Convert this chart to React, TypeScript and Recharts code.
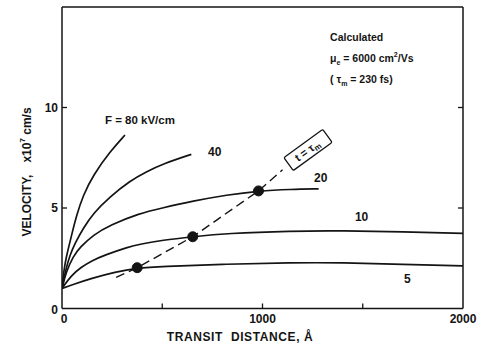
import React from 'react';
import { ComposedChart, Line, XAxis, YAxis, ReferenceDot, ReferenceLine, Label } from 'recharts';

// Transit distance (Å) and velocity (1e7 cm/s) for each field
const dist80 = [0, 5, 12, 22, 32, 48, 73, 106, 156, 239, 314];
const vel80 = [1.0, 1.5, 2.05, 2.58, 3.0, 3.66, 4.65, 5.65, 6.64, 7.8, 8.63];

const dist40 = [0, 20, 40, 65, 106, 156, 239, 339, 420, 505, 645];
const vel40 = [1.0, 2.0, 2.66, 3.25, 3.99, 4.74, 5.56, 6.35, 6.8, 7.2, 7.67];

const dist20 = [0, 20, 56, 90, 156, 239, 389, 490, 655, 822, 980, 1140, 1280];
const vel20 = [1.0, 1.8, 2.6, 3.05, 3.66, 4.15, 4.74, 4.98, 5.35, 5.65, 5.85, 5.93, 5.95];

const dist10 = [0, 47, 95, 147, 214, 330, 389, 500, 652, 822, 1140, 1400, 1700, 2000];
const vel10 = [1.0, 1.65, 2.05, 2.37, 2.66, 3.06, 3.2, 3.4, 3.57, 3.74, 3.86, 3.87, 3.82, 3.74];

const dist5 = [0, 47, 147, 265, 375, 490, 822, 1140, 1400, 1700, 2000];
const vel5 = [1.0, 1.17, 1.5, 1.82, 2.02, 2.09, 2.21, 2.28, 2.28, 2.2, 2.12];

// t = tau_m locus
const tauDist = [270, 375, 652, 980, 1100];
const tauVel = [1.55, 2.03, 3.57, 5.85, 6.9];

const xTicks = [0, 500, 1000, 1500, 2000];
const xTickLabels = ['0', '', '1000', '', '2000'];
const yTicks = [0, 5, 10];
const yTickLabels = ['0', '5', '10'];
const rTicks = [5, 10];
const X_MAX = 2000;
const Y_MAX = 15;

const INK = '#141414';
const FONT = '"Liberation Sans", Arial, sans-serif';

const zip = (d: number[], v: number[]) => d.map((x, i) => ({ d: x, v: v[i] }));
const s80 = zip(dist80, vel80);
const s40 = zip(dist40, vel40);
const s20 = zip(dist20, vel20);
const s10 = zip(dist10, vel10);
const s5 = zip(dist5, vel5);
const tau = zip(tauDist, tauVel);
const dots = tau.filter((p, i) => i >= 1 && i <= 3);

const XTick = (props: any) => {
  const { x, y, payload } = props;
  const ay = y - 8;
  const idx = xTicks.indexOf(payload.value);
  const label = idx >= 0 ? xTickLabels[idx] : '';
  return (
    <g>
      {payload.value !== 0 && payload.value !== X_MAX && (
        <line x1={x} y1={ay} x2={x} y2={ay - 5} stroke={INK} strokeWidth={1.3} />
      )}
      {label && (
        <text x={payload.value === 0 ? x + 2 : x} y={ay + 14} textAnchor="middle" fontFamily={FONT} fontWeight="bold" fontSize={12} fill={INK}>
          {label}
        </text>
      )}
    </g>
  );
};

const YTick = (props: any) => {
  const { x, y, payload } = props;
  const ax = x + 8;
  const idx = yTicks.indexOf(payload.value);
  const label = idx >= 0 ? yTickLabels[idx] : '';
  return (
    <g>
      {payload.value !== 0 && <line x1={ax} y1={y} x2={ax + 5} y2={y} stroke={INK} strokeWidth={1.3} />}
      <text x={ax - 4} y={y + (payload.value === 0 ? 5 : 4)} textAnchor="end" fontFamily={FONT} fontWeight="bold" fontSize={12} fill={INK}>
        {label}
      </text>
    </g>
  );
};

const txt = (value: React.ReactNode, size = 11.5) => (p: any) => {
  const vb = p.viewBox || {};
  return (
    <text x={vb.x} y={vb.y} fontFamily={FONT} fontWeight="bold" fontSize={size} fill={INK}>
      {value}
    </text>
  );
};

const calcLabel = (p: any) => {
  const vb = p.viewBox || {};
  const x = vb.x;
  const y = vb.y;
  const fs = 10.5;
  return (
    <g fontFamily={FONT} fontWeight="bold" fontSize={fs} fill={INK}>
      <text x={x} y={y}>Calculated</text>
      <text x={x} y={y + 21}>
        μ<tspan dy={3} fontSize={7}>e</tspan>
        <tspan dy={-3}> = 6000 cm</tspan>
        <tspan dy={-5} fontSize={7}>2</tspan>
        <tspan dy={5}>/Vs</tspan>
      </text>
      <text x={x} y={y + 42}>
        ( τ<tspan dy={3} fontSize={7}>m</tspan>
        <tspan dy={-3}> = 230 fs)</tspan>
      </text>
    </g>
  );
};

const boxLabel = (p: any) => {
  const vb = p.viewBox || {};
  return (
    <g transform={`translate(${vb.x},${vb.y}) rotate(-36)`}>
      <rect x={-24} y={-8} width={48} height={16} rx={1.5} fill="#fff" stroke={INK} strokeWidth={1.3} />
      <text x={-1} y={4} textAnchor="middle" fontFamily={FONT} fontWeight="bold" fontSize={11} fill={INK}>
        t = τ<tspan dy={2} fontSize={8}>m</tspan>
      </text>
    </g>
  );
};

const yAxisLabel = () => {
  const cx = 27;
  const cy = 172;
  return (
    <text
      x={cx}
      y={cy}
      transform={`rotate(-90, ${cx}, ${cy})`}
      textAnchor="middle"
      dominantBaseline="central"
      fontFamily={FONT}
      fontWeight="bold"
      fontSize={12}
      fill={INK}
    >
      VELOCITY,<tspan dx={12}>x10</tspan>
      <tspan dy={-5} fontSize={8}>7</tspan>
      <tspan dy={5}> cm/s</tspan>
    </text>
  );
};

const xAxisLabel = () => (
  <text x={240} y={341} textAnchor="middle" fontFamily={FONT} fontWeight="bold" fontSize={12} fill={INK} letterSpacing={0.6}>
    TRANSIT<tspan dx={8}>DISTANCE, Å</tspan>
  </text>
);

const lineProps = {
  type: 'basis' as const,
  dataKey: 'v',
  stroke: INK,
  strokeWidth: 1.7,
  dot: false,
  activeDot: false,
  isAnimationActive: false,
};

export default function App() {
  return (
    <div style={{ position: 'absolute', left: 0, top: 0, width: 480, height: 353, background: '#fff' }}>
      <ComposedChart width={480} height={353} margin={{ top: 7, right: 17, bottom: 0, left: 0 }}>
        <XAxis
          dataKey="d"
          type="number"
          domain={[0, X_MAX]}
          ticks={xTicks}
          tick={<XTick />}
          tickLine={false}
          tickSize={6}
          tickMargin={2}
          height={44.5}
          axisLine={{ stroke: INK, strokeWidth: 1.5 }}
          allowDataOverflow
        >
          <Label content={xAxisLabel} />
        </XAxis>
        <YAxis
          type="number"
          domain={[0, Y_MAX]}
          ticks={yTicks}
          tick={<YTick />}
          tickLine={false}
          tickSize={6}
          tickMargin={2}
          width={62}
          axisLine={{ stroke: INK, strokeWidth: 1.5 }}
          allowDataOverflow
        >
          <Label content={yAxisLabel} />
        </YAxis>
        <ReferenceLine x={X_MAX} stroke={INK} strokeWidth={1.5} ifOverflow="visible" />
        <ReferenceLine y={Y_MAX} stroke={INK} strokeWidth={1.5} ifOverflow="visible" />
        {rTicks.map((t) => (
          <ReferenceLine
            key={t}
            segment={[{ x: X_MAX - 25, y: t }, { x: X_MAX, y: t }]}
            stroke={INK}
            strokeWidth={1.3}
            ifOverflow="visible"
          />
        ))}
        <Line {...lineProps} data={s80} name="80" />
        <Line {...lineProps} data={s40} name="40" />
        <Line {...lineProps} data={s20} name="20" />
        <Line {...lineProps} data={s10} name="10" />
        <Line {...lineProps} data={s5} name="5" />
        <Line {...lineProps} type="linear" data={tau} name="tau" strokeWidth={1.4} strokeDasharray="9 5" />
        <Line
          data={dots}
          dataKey="v"
          name="dots"
          stroke="none"
          dot={{ r: 5, fill: INK, stroke: INK }}
          activeDot={false}
          isAnimationActive={false}
        />
        <ReferenceDot x={1337} y={13.31} r={0} fill="none" stroke="none" label={calcLabel} />
        <ReferenceDot x={214} y={9.18} r={0} fill="none" stroke="none" label={txt('F = 80 kV/cm')} />
        <ReferenceDot x={728} y={7.59} r={0} fill="none" stroke="none" label={txt('40', 12)} />
        <ReferenceDot x={1257} y={6.29} r={0} fill="none" stroke="none" label={txt('20', 12)} />
        <ReferenceDot x={1461} y={4.35} r={0} fill="none" stroke="none" label={txt('10', 12)} />
        <ReferenceDot x={1706} y={1.27} r={0} fill="none" stroke="none" label={txt('5', 12)} />
        <ReferenceDot x={1227} y={7.89} r={0} fill="none" stroke="none" label={boxLabel} />
      </ComposedChart>
    </div>
  );
}
